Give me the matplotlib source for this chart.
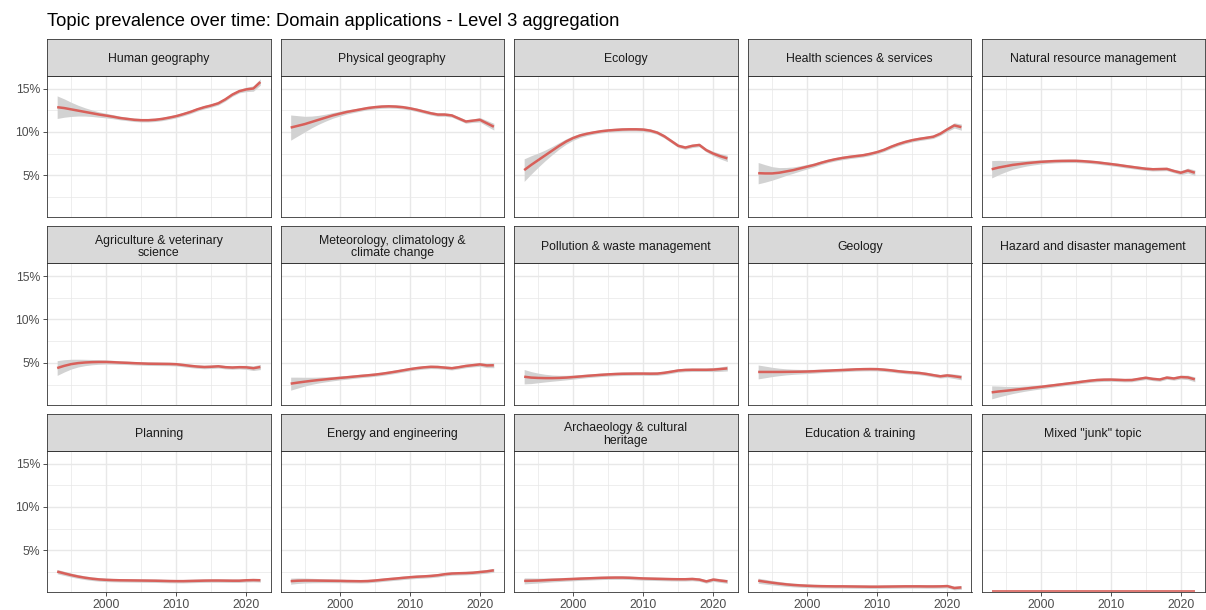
import numpy as np
import matplotlib.pyplot as plt
from matplotlib.ticker import FixedLocator

plt.rcParams['font.family'] = ['Liberation Sans', 'DejaVu Sans']

years = list(range(1993, 2023))

topics = [
    "Human geography", "Physical geography", "Ecology",
    "Health sciences & services", "Natural resource management",
    "Agriculture & veterinary\nscience", "Meteorology, climatology &\nclimate change",
    "Pollution & waste management", "Geology", "Hazard and disaster management",
    "Planning", "Energy and engineering", "Archaeology & cultural\nheritage",
    "Education & training", "Mixed \"junk\" topic",
]

# prevalence (%) per year, 1993-2022
human_geo = [12.85, 12.75, 12.6, 12.45, 12.3, 12.15, 12.0, 11.88, 11.75, 11.6,
             11.5, 11.4, 11.35, 11.35, 11.4, 11.5, 11.65, 11.82, 12.05, 12.3,
             12.6, 12.85, 13.05, 13.3, 13.75, 14.3, 14.7, 14.9, 15.0, 15.75]
physical_geo = [10.5, 10.7, 10.9, 11.15, 11.4, 11.65, 11.9, 12.1, 12.3, 12.45,
                12.6, 12.75, 12.85, 12.92, 12.95, 12.92, 12.85, 12.72, 12.55, 12.35,
                12.15, 12.0, 12.0, 11.9, 11.55, 11.2, 11.3, 11.4, 11.0, 10.6]
ecology = [5.6, 6.2, 6.75, 7.3, 7.85, 8.4, 8.9, 9.3, 9.6, 9.8,
           9.95, 10.08, 10.17, 10.23, 10.28, 10.3, 10.3, 10.27, 10.15, 9.92,
           9.5, 8.95, 8.4, 8.2, 8.4, 8.5, 7.9, 7.5, 7.2, 6.95]
health = [5.25, 5.22, 5.22, 5.3, 5.45, 5.6, 5.8, 6.0, 6.2, 6.45,
          6.67, 6.85, 7.0, 7.12, 7.22, 7.32, 7.48, 7.68, 7.95, 8.3,
          8.6, 8.85, 9.05, 9.2, 9.32, 9.45, 9.8, 10.3, 10.75, 10.55]
natural_res = [5.7, 5.9, 6.05, 6.2, 6.3, 6.4, 6.48, 6.55, 6.6, 6.64,
               6.66, 6.67, 6.67, 6.63, 6.57, 6.5, 6.4, 6.3, 6.2, 6.08,
               5.97, 5.86, 5.76, 5.7, 5.72, 5.74, 5.5, 5.3, 5.55, 5.3]
agriculture = [4.4, 4.65, 4.85, 4.97, 5.04, 5.08, 5.1, 5.1, 5.07, 5.03,
               5.0, 4.96, 4.93, 4.9, 4.89, 4.88, 4.87, 4.84, 4.75, 4.65,
               4.57, 4.52, 4.55, 4.6, 4.5, 4.46, 4.5, 4.48, 4.38, 4.52]
meteorology = [2.6, 2.72, 2.83, 2.93, 3.02, 3.1, 3.18, 3.26, 3.33, 3.41,
               3.49, 3.56, 3.64, 3.74, 3.86, 3.99, 4.13, 4.27, 4.39, 4.48,
               4.54, 4.52, 4.45, 4.38, 4.5, 4.64, 4.73, 4.82, 4.7, 4.72]
pollution = [3.4, 3.3, 3.26, 3.24, 3.24, 3.26, 3.3, 3.36, 3.43, 3.5,
             3.56, 3.62, 3.67, 3.71, 3.74, 3.75, 3.76, 3.76, 3.75, 3.76,
             3.85, 3.98, 4.12, 4.18, 4.2, 4.2, 4.2, 4.22, 4.28, 4.36]
geology = [3.95, 3.95, 3.95, 3.95, 3.96, 3.97, 3.98, 4.0, 4.03, 4.07,
           4.1, 4.14, 4.17, 4.21, 4.25, 4.27, 4.28, 4.27, 4.21, 4.13,
           4.03, 3.95, 3.89, 3.83, 3.72, 3.58, 3.45, 3.55, 3.45, 3.33]
hazard = [1.6, 1.7, 1.78, 1.87, 1.96, 2.05, 2.14, 2.23, 2.33, 2.43,
          2.53, 2.63, 2.73, 2.84, 2.94, 3.02, 3.06, 3.07, 3.04, 3.01,
          3.02, 3.15, 3.28, 3.15, 3.08, 3.3, 3.2, 3.36, 3.32, 3.1]
planning = [2.55, 2.35, 2.15, 1.98, 1.84, 1.73, 1.65, 1.6, 1.57, 1.55,
            1.54, 1.53, 1.52, 1.51, 1.5, 1.48, 1.46, 1.45, 1.45, 1.47,
            1.49, 1.51, 1.52, 1.52, 1.51, 1.5, 1.5, 1.55, 1.57, 1.55]
energy = [1.45, 1.5, 1.52, 1.52, 1.51, 1.5, 1.49, 1.48, 1.46, 1.45,
          1.44, 1.46, 1.52, 1.6, 1.68, 1.75, 1.83, 1.9, 1.96, 2.0,
          2.05, 2.13, 2.25, 2.33, 2.36, 2.38, 2.42, 2.5, 2.58, 2.7]
archaeology = [1.48, 1.5, 1.52, 1.56, 1.6, 1.63, 1.67, 1.7, 1.74, 1.77,
               1.8, 1.83, 1.85, 1.86, 1.86, 1.84, 1.8, 1.76, 1.74, 1.72,
               1.7, 1.68, 1.67, 1.67, 1.7, 1.63, 1.42, 1.63, 1.52, 1.42]
education = [1.5, 1.38, 1.27, 1.17, 1.08, 1.01, 0.96, 0.92, 0.89, 0.87,
             0.86, 0.85, 0.85, 0.84, 0.83, 0.82, 0.81, 0.81, 0.82, 0.83,
             0.84, 0.85, 0.85, 0.85, 0.84, 0.84, 0.85, 0.88, 0.66, 0.73]
junk = [0.3] * 30

series = [human_geo, physical_geo, ecology, health, natural_res,
          agriculture, meteorology, pollution, geology, hazard,
          planning, energy, archaeology, education, junk]

# half-width of the confidence band at 1993, per topic
ci_start = [1.3, 1.45, 1.3, 1.23, 1.0, 0.85, 0.75, 0.83, 0.8, 0.75,
            0.25, 0.35, 0.35, 0.3, 0.0]
ci_floor = 0.2
# how the band narrows over the years
ci_taper = ([1.0, 0.78, 0.56, 0.38, 0.25, 0.16, 0.1, 0.06, 0.03, 0.01]
            + [0.0] * 17 + [0.05, 0.1, 0.15])

W, H = 1206, 610
col_left = [47, 280.5, 514, 748, 981.5]
panel_w = 223.5
row_top = [75.5, 263, 450.5]
panel_h = 141.5
strip_h = 36.5

line_col = '#D8605A'
band_col = '#D2D2D2'
grid_col = '#E8E8E8'
edge_col = '#333333'
text_col = '#4D4D4D'

fig = plt.figure(figsize=(W / 100, H / 100), dpi=100)
fig.text(47 / W, 1 - 21 / H, "Topic prevalence over time: Domain applications - Level 3 aggregation",
         fontsize=13.2, color='black', va='center', ha='left')

for i, (name, vals) in enumerate(zip(topics, series)):
    r, c = divmod(i, 5)
    x0 = col_left[c]
    y0 = row_top[r]
    ax = fig.add_axes([x0 / W, 1 - (y0 + panel_h) / H, panel_w / W, panel_h / H])
    vals = np.array(vals)
    half = ci_floor + (ci_start[i] - ci_floor) * np.array(ci_taper)
    if ci_start[i] > 0:
        ax.fill_between(years, vals - half, vals + half, color=band_col, lw=0, zorder=2)
    ax.plot(years, vals, color=line_col, lw=1.8 if ci_start[i] > 0 else 1.2,
            zorder=6, solid_capstyle='butt')

    ax.set_xlim(1991.55, 2023.45)
    ax.set_ylim(0.2, 16.5)
    ax.xaxis.set_major_locator(FixedLocator([2000, 2010, 2020]))
    ax.xaxis.set_minor_locator(FixedLocator([1995, 2005, 2015]))
    ax.yaxis.set_major_locator(FixedLocator([5, 10, 15]))
    ax.yaxis.set_minor_locator(FixedLocator([2.5, 7.5, 12.5]))
    ax.grid(which='major', color=grid_col, lw=1.0, zorder=0)
    ax.grid(which='minor', color=grid_col, lw=0.5, zorder=0)
    ax.set_axisbelow(True)
    ax.tick_params(which='minor', length=0)
    ax.tick_params(which='major', length=3, width=0.6, color=edge_col,
                   labelsize=8.8, labelcolor=text_col, pad=2)
    if c == 0:
        ax.set_yticklabels(["5%", "10%", "15%"])
    else:
        ax.tick_params(axis='y', which='major', length=0, labelleft=False)
    if r == 2:
        ax.set_xticklabels(["2000", "2010", "2020"])
    else:
        ax.tick_params(axis='x', which='major', length=0, labelbottom=False)
    for s in ax.spines.values():
        s.set_color(edge_col)
        s.set_linewidth(0.6)
        s.set_zorder(5)

    # facet strip
    sax = fig.add_axes([x0 / W, 1 - y0 / H, panel_w / W, strip_h / H])
    sax.set_facecolor('#D9D9D9')
    sax.set_xticks([])
    sax.set_yticks([])
    for s in sax.spines.values():
        s.set_color(edge_col)
        s.set_linewidth(0.6)
    sax.text(0.5, 0.44, name, ha='center', va='center', fontsize=8.8,
             color='#1A1A1A', linespacing=1.05, transform=sax.transAxes)

fig.savefig('out.png', dpi=100)
